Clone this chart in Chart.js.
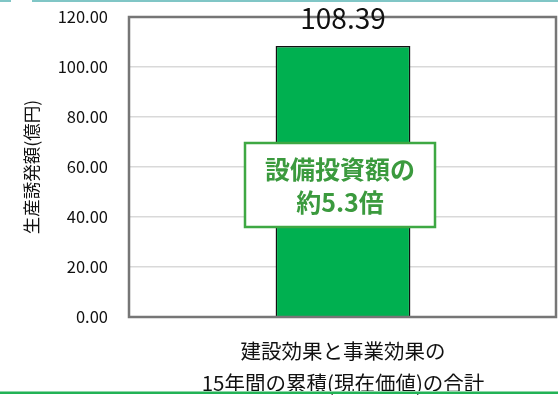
<html lang="ja">

<head>
  <meta charset="utf-8" />
  <title>生産誘発額</title>
  <style>
    * {
      padding: 0;
      margin: 0;
      box-sizing: border-box;
    }

    body {
      width: 558px;
      height: 396px;
      background: #ffffff;
      overflow: hidden;
    }

    .wrapper {
      position: relative;
      width: 558px;
      height: 396px;
    }
  </style>
</head>

<body>
  <div class="wrapper">
    <canvas id="chart" width="558" height="396"></canvas>
  </div>
  <script src="https://cdn.jsdelivr.net/npm/chart.js@4.4.1/dist/chart.umd.min.js"></script>
  <script>
    const categories = [["建設効果と事業効果の", "15年間の累積(現在価値)の合計"]];
    const values = [108.39];
    const yTicks = [0, 20, 40, 60, 80, 100, 120];
    const callout = ["設備投資額の", "約5.3倍"];

    const FONT = "'Noto Sans CJK JP', 'Noto Sans', sans-serif";

    // frame, value label, callout box and the page rules
    const decoPlugin = {
      id: "deco",
      afterDraw(chart) {
        const { ctx, chartArea: a } = chart;
        const meta = chart.getDatasetMeta(0);
        const yScale = chart.scales.y;
        const bar = meta.data[0];

        ctx.save();
        ctx.strokeStyle = "#767676";
        ctx.lineWidth = 2.5;
        ctx.strokeRect(a.left, a.top, a.right - a.left - 1, a.bottom - a.top);

        ctx.fillStyle = "#111111";
        ctx.font = "28px " + FONT;
        ctx.textAlign = "center";
        ctx.textBaseline = "middle";
        ctx.fillText(values[0].toFixed(2), bar.x, yScale.getPixelForValue(values[0]) - 28);

        // callout box
        const bx = bar.x - 98;
        const bw = 190;
        const by = yScale.getPixelForValue(69.6);
        const bh = yScale.getPixelForValue(36) - by;
        ctx.fillStyle = "#ffffff";
        ctx.fillRect(bx, by, bw, bh);
        ctx.strokeStyle = "#3ea843";
        ctx.lineWidth = 2.5;
        ctx.strokeRect(bx, by, bw, bh);
        ctx.fillStyle = "#3b9a3e";
        ctx.font = "bold 25px " + FONT;
        ctx.fillText(callout[0], bx + bw / 2, by + 26);
        ctx.fillText(callout[1], bx + bw / 2, by + 59);

        // top and bottom rules
        ctx.fillStyle = "#80c6c6";
        ctx.fillRect(0, 0, 11, 2);
        ctx.fillRect(32, 0, 526, 2);
        ctx.fillStyle = "#8fd6a8";
        ctx.fillRect(0, 391, 558, 1);
        ctx.fillStyle = "#22b356";
        ctx.fillRect(0, 392, 558, 2);
        ctx.restore();
      },
    };

    new Chart(document.getElementById("chart"), {
      type: "bar",
      plugins: [decoPlugin],
      data: {
        labels: categories,
        datasets: [{
          data: values,
          backgroundColor: "#00b050",
          borderColor: "#111111",
          borderWidth: 1.5,
          borderSkipped: "bottom",
          categoryPercentage: 1,
          barPercentage: 0.315,
        }],
      },
      options: {
        responsive: false,
        animation: false,
        layout: { padding: { top: 17, right: 1, left: 0, bottom: 0 } },
        plugins: {
          legend: { display: false },
          tooltip: { enabled: false },
        },
        scales: {
          x: {
            grid: { display: false, drawTicks: false },
            border: { display: false },
            ticks: {
              color: "#111111",
              padding: 18.5,
              maxRotation: 0,
              font: { family: FONT, size: 20.5, lineHeight: "32px" },
            },
            afterFit(scale) {
              scale.height = 79;
              scale.paddingLeft = 0;
              scale.paddingRight = 0;
            },
          },
          y: {
            min: 0,
            max: 120,
            afterBuildTicks(scale) { scale.ticks = yTicks.map(v => ({ value: v })); },
            grid: { color: "#d9d9d9", lineWidth: 1.5, drawTicks: false },
            border: { display: false },
            ticks: {
              color: "#111111",
              padding: 21,
              font: { family: FONT, size: 16.5 },
              callback: v => v.toFixed(2),
            },
            title: {
              display: true,
              text: "生産誘発額(億円)",
              color: "#111111",
              font: { family: FONT, size: 17.5 },
              padding: { top: 21, bottom: 0 },
            },
            afterFit(scale) {
              scale.width = 129;
              scale.paddingTop = 0;
              scale.paddingBottom = 0;
            },
          },
        },
      },
    });
  </script>
</body>

</html>
